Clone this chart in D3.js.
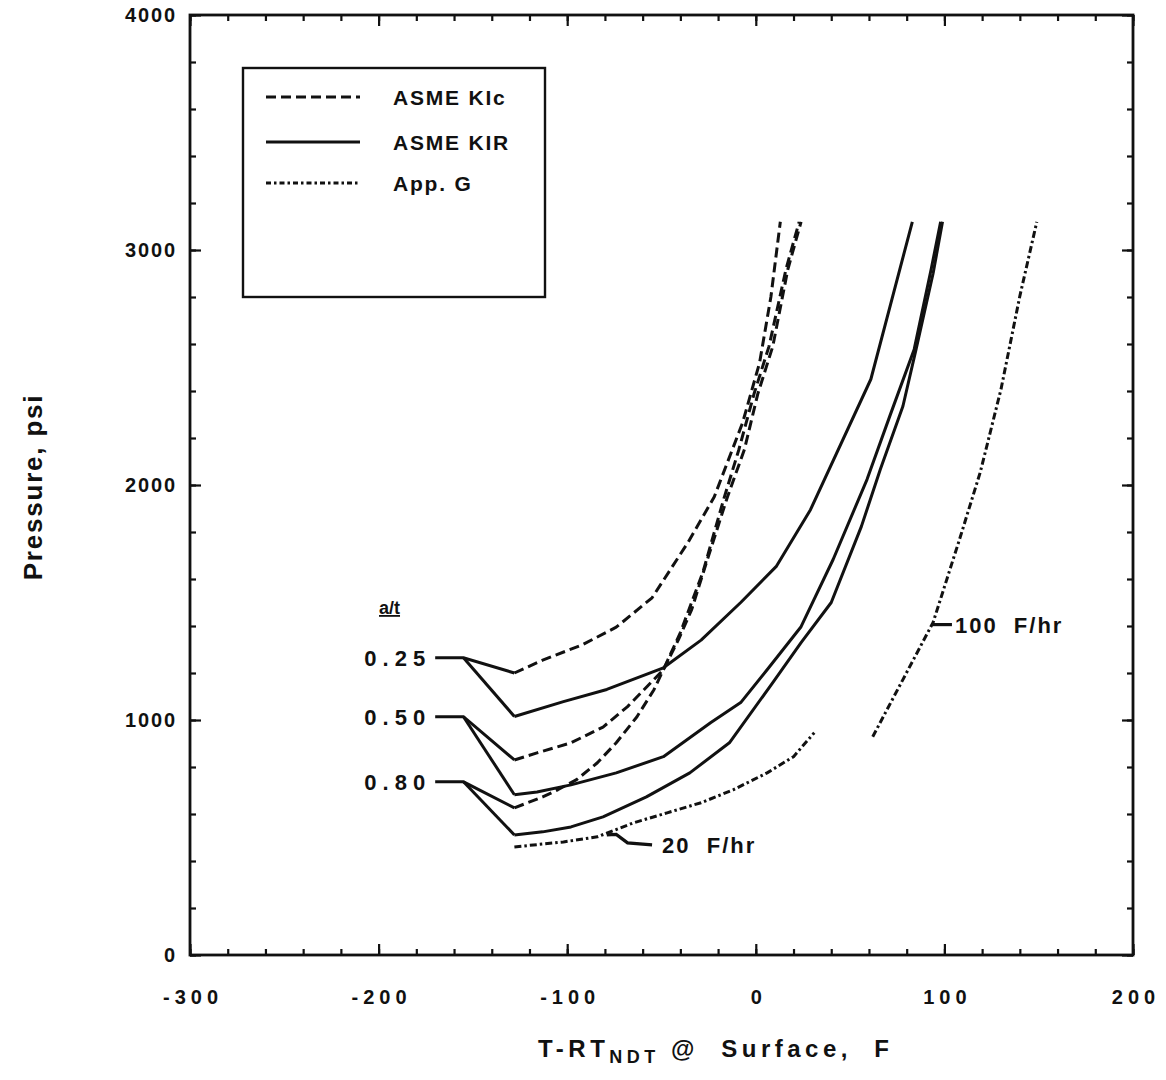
<!DOCTYPE html>
<html><head><meta charset="utf-8">
<script src="https://cdn.jsdelivr.net/npm/d3@7"></script>
<style>
body{margin:0;background:#fff}
text{font-family:"Liberation Sans",Arial,Helvetica,sans-serif;font-weight:bold;fill:#111}
</style>
</head><body>
<svg id="chart" width="1166" height="1080"></svg>
<script>
// ---------- data ----------
const xTicks = [-300, -200, -100, 0, 100, 200];
const yTicks = [0, 1000, 2000, 3000, 4000];
const crackLabels = ["0.25", "0.50", "0.80"];
const startP = [1265, 1014, 737];          // plateau pressure at curve start
const leaderT = [-170, -155];              // label leader span (F)

const kic025 = [[-128,1200],[-113,1255],[-92,1320],[-74,1395],[-55,1520],[-36,1755],[-22,1950],[-7,2265],[2,2520],[8,2800],[13,3120]];
const kic050 = [[-128,830],[-116,860],[-98,903],[-81,970],[-68,1057],[-49,1214],[-40,1372],[-28,1630],[-17,1940],[-9,2150],[-1,2386],[7,2590],[16,2918],[23,3120]];
const kic080 = [[-128,626],[-113,673],[-105,703],[-95,746],[-84,818],[-74,903],[-63,1014],[-54,1129],[-49,1214],[-41,1342],[-34,1470],[-25,1700],[-15,1950],[-6,2152],[1,2386],[9,2590],[17,2918],[24,3120]];

const kir025 = [[-128,1015],[-102,1078],[-79,1130],[-49,1222],[-29,1340],[-8,1500],[11,1655],[29,1895],[61,2450],[83,3120]];
const kir050 = [[-128,682],[-116,694],[-98,724],[-74,775],[-49,844],[-24,988],[-8,1074],[6,1214],[24,1397],[41,1683],[59,2024],[71,2292],[84,2578],[93,2919],[98,3120]];
const kir080 = [[-128,511],[-113,524],[-98,545],[-81,588],[-58,673],[-35,775],[-14,903],[9,1159],[24,1329],[40,1500],[56,1824],[66,2066],[78,2335],[85,2578],[94,2900],[99,3120]];

const appG20  = [[-128,460],[-102,481],[-84,503],[-65,562],[-47,605],[-29,648],[-12,703],[6,775],[20,844],[31,946]];
const appG100 = [[62,929],[78,1172],[94,1415],[108,1768],[119,2054],[130,2407],[140,2804],[149,3120]];

const rateLabels = ["20  F/hr", "100  F/hr"];
const rateLeader20  = [[-79,511],[-74,513],[-68,477],[-55,469]];
const rateLeader100 = [[93,1406],[104,1406]];

const legendNames = ["ASME KIc", "ASME KIR", "App. G"];

// ---------- layout ----------
const svg = d3.select("#chart");
const L = 190, R = 1133, T = 15, B = 955;
const x = d3.scaleLinear([-300, 200], [L, R]);
const y = d3.scaleLinear([0, 4000], [B, T]);
const line = d3.line().x(d => x(d[0])).y(d => y(d[1]));

const DASH = "10,5", DASHDOT = "7,3,2.5,3";
const SW = 3;

// ---------- axes (inward ticks on all 4 sides) ----------
const minorX = d3.range(-300, 201, 20);
const minorY = d3.range(0, 4001, 200);
function styleAxis(g){ g.select(".domain").remove(); g.selectAll("line").attr("stroke","#111").attr("stroke-width",2.2); }

svg.append("g").attr("transform",`translate(0,${B})`)
  .call(d3.axisBottom(x).tickValues(minorX).tickSize(-6).tickFormat("")).call(styleAxis);
const gxb = svg.append("g").attr("transform",`translate(0,${B})`)
  .call(d3.axisBottom(x).tickValues(xTicks).tickSize(-11).tickPadding(35).tickFormat(d => String(d))).call(styleAxis);
gxb.selectAll("text").attr("font-size",20).attr("letter-spacing","5px").attr("dx","2.5px").attr("fill","#111");

svg.append("g").attr("transform",`translate(0,${T})`)
  .call(d3.axisTop(x).tickValues(minorX).tickSize(-6).tickFormat("")).call(styleAxis);
svg.append("g").attr("transform",`translate(0,${T})`)
  .call(d3.axisTop(x).tickValues(xTicks).tickSize(-11).tickFormat("")).call(styleAxis);

svg.append("g").attr("transform",`translate(${L},0)`)
  .call(d3.axisLeft(y).tickValues(minorY).tickSize(-6).tickFormat("")).call(styleAxis);
const gyl = svg.append("g").attr("transform",`translate(${L},0)`)
  .call(d3.axisLeft(y).tickValues(yTicks).tickSize(-11).tickPadding(15).tickFormat(d => String(d))).call(styleAxis);
gyl.selectAll("text").attr("font-size",20).attr("letter-spacing","1.8px").attr("dx","1.8px").attr("fill","#111");

svg.append("g").attr("transform",`translate(${R},0)`)
  .call(d3.axisRight(y).tickValues(minorY).tickSize(-6).tickFormat("")).call(styleAxis);
svg.append("g").attr("transform",`translate(${R},0)`)
  .call(d3.axisRight(y).tickValues(yTicks).tickSize(-11).tickFormat("")).call(styleAxis);

svg.append("rect").attr("x",L).attr("y",T).attr("width",R-L).attr("height",B-T)
  .attr("fill","none").attr("stroke","#111").attr("stroke-width",2.8);

// ---------- axis titles ----------
const xt = svg.append("text").attr("x",538).attr("y",1057)
  .attr("font-size",24).attr("letter-spacing","4.5px").style("white-space","pre");
xt.append("tspan").text("T-RT");
xt.append("tspan").attr("font-size",18).attr("dy",6).text("NDT");
xt.append("tspan").attr("dy",-6).text(" @  Surface,  F");

svg.append("text").attr("transform","translate(42,487) rotate(-90)").attr("text-anchor","middle")
  .attr("font-size",26).attr("letter-spacing","1.8px").text("Pressure, psi");

// ---------- curves ----------
const curves = [
  {d:kic025, dash:DASH}, {d:kic050, dash:DASH}, {d:kic080, dash:DASH},
  {d:kir025, dash:null}, {d:kir050, dash:null}, {d:kir080, dash:null},
  {d:appG20, dash:DASHDOT}, {d:appG100, dash:DASHDOT}
];
svg.append("g").selectAll("path").data(curves).join("path")
  .attr("d", c => line(c.d)).attr("fill","none").attr("stroke","#111")
  .attr("stroke-width",SW).attr("stroke-linejoin","round")
  .attr("stroke-dasharray", c => c.dash);

// label leaders from a/t labels to curve minima
const kicSets = [kic025, kic050, kic080], kirSets = [kir025, kir050, kir080];
crackLabels.forEach((lab, i) => {
  const p0 = startP[i];
  svg.append("path").attr("d", line([[leaderT[0],p0],[leaderT[1],p0],kicSets[i][0]]))
    .attr("fill","none").attr("stroke","#111").attr("stroke-width",SW);
  svg.append("path").attr("d", line([[leaderT[1],p0],kirSets[i][0]]))
    .attr("fill","none").attr("stroke","#111").attr("stroke-width",SW);
  svg.append("text").attr("x", x(leaderT[0]) - 4).attr("y", y(p0) + 8)
    .attr("text-anchor","end").attr("font-size",22).attr("letter-spacing","6px").text(lab);
});
svg.append("text").attr("x",379).attr("y",614).attr("font-size",18)
  .attr("text-decoration","underline").text("a/t");

// rate labels
svg.append("path").attr("d", line(rateLeader20)).attr("fill","none").attr("stroke","#111").attr("stroke-width",3.2);
svg.append("path").attr("d", line(rateLeader100)).attr("fill","none").attr("stroke","#111").attr("stroke-width",3.2);
svg.append("text").attr("x", x(rateLeader20[3][0]) + 10).attr("y", y(rateLeader20[3][1]) + 8)
  .attr("font-size",22).attr("letter-spacing","2px").style("white-space","pre").text(rateLabels[0]);
svg.append("text").attr("x", x(rateLeader100[1][0]) + 3).attr("y", y(rateLeader100[1][1]) + 8)
  .attr("font-size",22).attr("letter-spacing","2px").style("white-space","pre").text(rateLabels[1]);

// ---------- legend ----------
const lg = svg.append("g");
lg.append("rect").attr("x",243).attr("y",68).attr("width",302).attr("height",229)
  .attr("fill","#fff").attr("stroke","#111").attr("stroke-width",2.4);
const legDash = [DASH, null, "5,3,2.5,3"];
const legY = [97, 142, 183];
legendNames.forEach((nm, i) => {
  lg.append("line").attr("x1",266).attr("x2",360).attr("y1",legY[i]).attr("y2",legY[i])
    .attr("stroke","#111").attr("stroke-width",SW).attr("stroke-dasharray",legDash[i]);
  lg.append("text").attr("x",393).attr("y",legY[i]+8).attr("font-size",21)
    .attr("letter-spacing","1.8px").text(nm);
});
</script>
</body></html>
